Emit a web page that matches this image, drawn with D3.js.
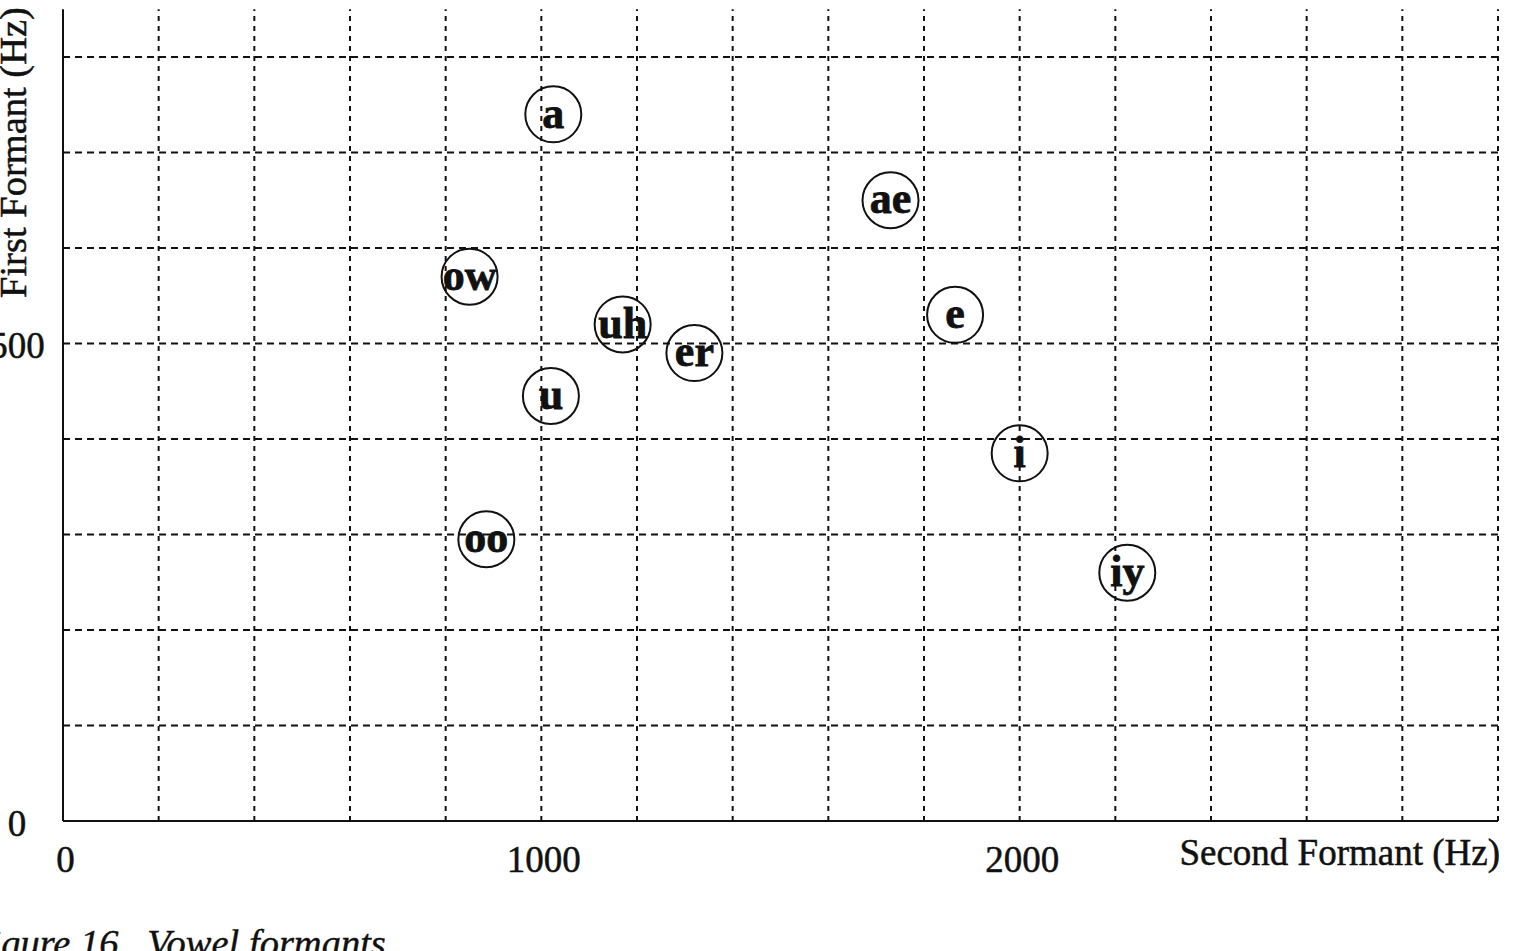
<!DOCTYPE html>
<html>
<head>
<meta charset="utf-8">
<script src="https://cdn.jsdelivr.net/npm/d3@7/dist/d3.min.js"></script>
<style>
  html, body { margin: 0; padding: 0; background: #fff; overflow: hidden; }
  svg { display: block; }
  text { font-family: "Liberation Serif", "Times New Roman", serif; fill: #111; }
</style>
</head>
<body>
<svg id="chart" width="1519" height="951"></svg>
<script>
// ---- data ----
const vowels = ["a", "ae", "ow", "uh", "er", "e", "u", "i", "oo", "iy"];
const secondFormant = [1025, 1730, 850, 1170, 1320, 1865, 1020, 2000, 885, 2225];
const firstFormant  = [740, 650, 570, 520, 490, 530, 445, 385, 295, 260];
const xTickValues = [0, 1000, 2000];
const yTickValues = [0, 500];
const xGridValues = d3.range(200, 3001, 200);
const yGridValues = d3.range(100, 801, 100);
const xTitle = "Second Formant (Hz)";
const yTitle = "First Formant (Hz)";
const caption = "Figure 16.\u00A0 Vowel formants.";

// ---- layout ----
const svg = d3.select("#chart");
const x = d3.scaleLinear().domain([0, 3000]).range([63, 1498]);
const y = d3.scaleLinear().domain([0, 850]).range([821, 9.25]);
const serif = "'Liberation Serif', 'Times New Roman', serif";

// grid
const grid = svg.append("g").attr("stroke", "#111").attr("stroke-width", 2).attr("fill", "none");
grid.selectAll("line.v").data(xGridValues).join("line")
  .attr("class", "v")
  .attr("x1", d => x(d)).attr("x2", d => x(d))
  .attr("y1", y(0)).attr("y2", y(850))
  .attr("stroke-dasharray", "5,5");
grid.selectAll("line.h").data(yGridValues).join("line")
  .attr("class", "h")
  .attr("x1", x(0)).attr("x2", x(3000))
  .attr("y1", d => y(d)).attr("y2", d => y(d))
  .attr("stroke-dasharray", "7,5");

// axes
const xAxis = svg.append("g")
  .attr("transform", `translate(0,${y(0)})`)
  .call(d3.axisBottom(x).tickValues(xTickValues).tickSize(0).tickFormat(d3.format("d")));
xAxis.select(".domain").remove();
xAxis.selectAll("text")
  .attr("y", 51).attr("dy", 0).attr("dx", 2)
  .style("font-size", "37px")
  .style("font-family", serif)
  .attr("fill", "#111").attr("stroke", "#111").attr("stroke-width", 0.5);

const yAxis = svg.append("g")
  .call(d3.axisLeft(y).tickValues(yTickValues).tickSize(0).tickFormat(d3.format("d")));
yAxis.select(".domain").remove();
yAxis.selectAll("text")
  .attr("x", 17).attr("dy", 14)
  .attr("text-anchor", "middle")
  .style("font-size", "37px")
  .style("font-family", serif)
  .attr("fill", "#111").attr("stroke", "#111").attr("stroke-width", 0.5);

// axis lines
svg.append("line")
  .attr("x1", x(0)).attr("x2", x(0))
  .attr("y1", y(0)).attr("y2", y(850))
  .attr("stroke", "#111").attr("stroke-width", 2);
svg.append("line")
  .attr("x1", x(0)).attr("x2", x(3000))
  .attr("y1", y(0)).attr("y2", y(0))
  .attr("stroke", "#111").attr("stroke-width", 2);

// titles
svg.append("text")
  .attr("x", 1500).attr("y", 865)
  .attr("text-anchor", "end")
  .attr("stroke", "#111").attr("stroke-width", 0.5)
  .style("font-size", "37px")
  .text(xTitle);
svg.append("text")
  .attr("transform", "translate(26,298) rotate(-90)")
  .attr("text-anchor", "start")
  .attr("stroke", "#111").attr("stroke-width", 0.5)
  .style("font-size", "38.5px")
  .text(yTitle);

// caption (cut off at the edges as in the scan)
svg.append("text")
  .attr("x", -33).attr("y", 956)
  .attr("stroke", "#111").attr("stroke-width", 0.4)
  .style("font-size", "38.5px")
  .style("font-style", "italic")
  .style("white-space", "pre")
  .text(caption);

// vowel markers
const pts = vowels.map((v, i) => ({ v, f2: secondFormant[i], f1: firstFormant[i] }));
const g = svg.append("g");
g.selectAll("circle").data(pts).join("circle")
  .attr("cx", d => x(d.f2)).attr("cy", d => y(d.f1))
  .attr("r", 28)
  .attr("fill", "none")
  .attr("stroke", "#111").attr("stroke-width", 2);
g.selectAll("text").data(pts).join("text")
  .attr("x", d => x(d.f2)).attr("y", d => y(d.f1))
  .attr("dy", "0.3em")
  .attr("text-anchor", "middle")
  .attr("stroke", "#111").attr("stroke-width", 0.8)
  .style("font-size", "44px")
  .style("font-weight", "bold")
  .text(d => d.v);
</script>
</body>
</html>
